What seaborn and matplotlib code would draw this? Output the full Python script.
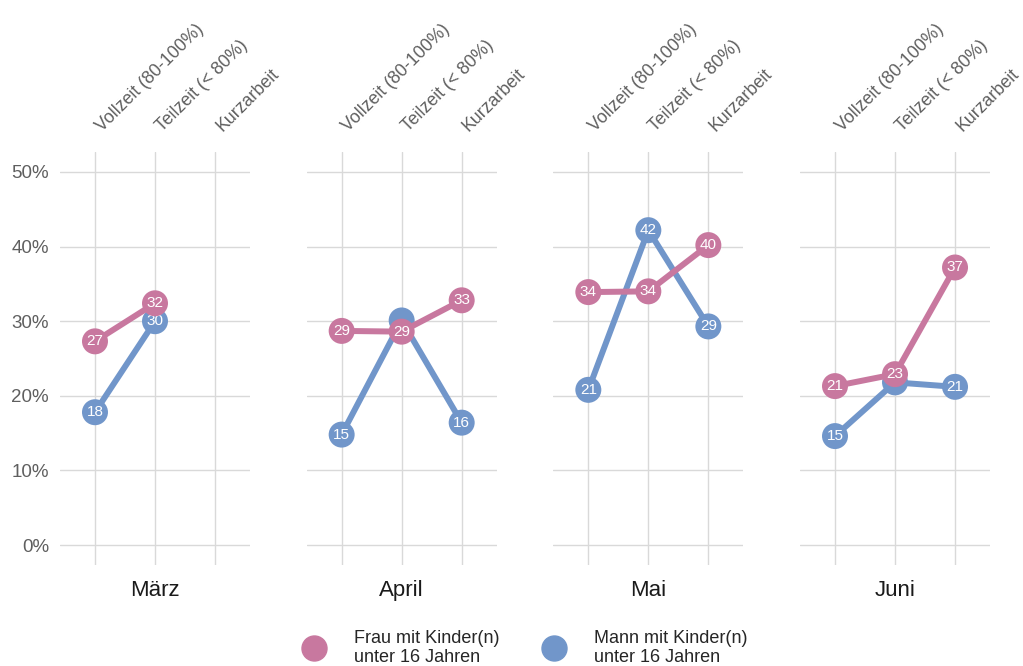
import numpy as np
import pandas as pd
import seaborn as sns
import matplotlib.pyplot as plt
import matplotlib.transforms as mtransforms
from matplotlib.lines import Line2D

months = ["März", "April", "Mai", "Juni"]
categories = ["Vollzeit (80-100%)", "Teilzeit (< 80%)", "Kurzarbeit"]
frau = [[27.3, 32.4, np.nan], [28.7, 28.6, 32.8], [33.9, 34.0, 40.2], [21.3, 22.9, 37.2]]
mann = [[17.8, 30.0, np.nan], [14.8, 30.1, 16.4], [20.8, 42.2, 29.3], [14.6, 21.8, 21.2]]
series = ["Mann mit Kinder(n)\nunter 16 Jahren", "Frau mit Kinder(n)\nunter 16 Jahren"]
colors = {series[0]: "#7196CA", series[1]: "#C8789F"}

rows = []
for m, month in enumerate(months):
    for name, vals, other in zip(series, [mann, frau], [frau, None]):
        for c, cat in enumerate(categories):
            v = vals[m][c]
            # hide a label that sits under the other series' marker
            hidden = other is not None and abs(other[m][c] - v) < 2
            rows.append({"month": month, "series": name, "cat": cat, "x": c,
                         "value": v, "hidden": hidden})
df = pd.DataFrame(rows).dropna(subset=["value"])

sns.set_theme(style="white")
plt.rcParams["font.family"] = ["Liberation Sans", "DejaVu Sans"]

fig = plt.figure(figsize=(10.23, 6.66), dpi=100)
W, H = 1023, 666
pw, gap = 190, 56.67
grid_c = "#d9d9d9"
shift = mtransforms.ScaledTranslation(7 / 100, 20 / 100, fig.dpi_scale_trans)

for m, month in enumerate(months):
    left = 60 + m * (pw + gap)
    ax = fig.add_axes([left / W, 1 - 565 / H, pw / W, (565 - 152) / H])
    sub = df[df["month"] == month]
    for z, name in enumerate(series):
        s = sub[sub["series"] == name]
        sns.lineplot(data=s, x="x", y="value", color=colors[name], linewidth=4.3,
                     ax=ax, zorder=3 + z * 3, legend=False)
        sns.scatterplot(data=s, x="x", y="value", color=colors[name], s=350,
                        edgecolor="none", ax=ax, zorder=4 + z * 3, legend=False)
        for _, r in s[~s["hidden"]].iterrows():
            ax.text(r["x"], r["value"], f"{r['value']:.0f}", color="white", fontsize=11,
                    ha="center", va="center", zorder=5 + z * 3)
    ax.set_xlim(-0.583, 2.583)
    ax.set_ylim(-2.68, 52.68)
    ax.set_yticks(range(0, 51, 10))
    ax.set_xticks(range(len(categories)))
    ax.set_xticklabels([])
    # category labels above each column, rotated
    for c, cat in enumerate(categories):
        ax.text(c, 1.0, cat, transform=ax.get_xaxis_transform() + shift, rotation=45,
                ha="left", va="baseline", rotation_mode="anchor", fontsize=12.8,
                color="#5f5f5f")
    ax.tick_params(axis="x", length=0)
    ax.tick_params(axis="y", length=0, pad=8)
    if m == 0:
        ax.set_yticklabels([f"{v}%" for v in range(0, 51, 10)], fontsize=13.5, color="#5f5f5f")
    else:
        ax.set_yticklabels([])
    ax.set_ylabel("")
    ax.set_xlabel(month, fontsize=16, color="#1a1a1a", labelpad=7)
    for v in range(0, 51, 10):
        ax.axhline(v, color=grid_c, linewidth=1, zorder=1)
    for c in range(len(categories)):
        ax.axvline(c, color=grid_c, linewidth=1, zorder=1)
    for sp in ax.spines.values():
        sp.set_visible(False)

handles = [Line2D([], [], marker="o", linestyle="", markersize=18, color=colors[n]) for n in series[::-1]]
fig.legend(handles, series[::-1], loc="center", bbox_to_anchor=(0.51, 1 - 648 / H), ncol=2,
           frameon=False, fontsize=13, handletextpad=1.2, columnspacing=2.0,
           labelspacing=0.2)

fig.savefig("out.png", dpi=100, facecolor="white")
